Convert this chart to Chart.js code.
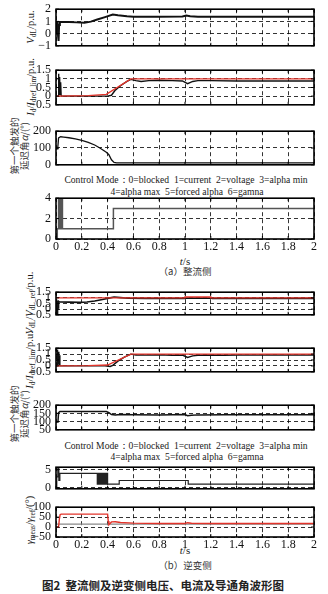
<!DOCTYPE html>
<html lang="zh">
<head>
<meta charset="utf-8">
<title>整流侧及逆变侧电压、电流及导通角波形图</title>
<script src="https://cdn.jsdelivr.net/npm/chart.js@4.4.1/dist/chart.umd.min.js"></script>
<style>
  html,body{margin:0;padding:0;background:#fff;}
  body{position:relative;width:328px;height:594px;overflow:hidden;font-family:"Liberation Serif","Times New Roman",serif;color:#1a1a1a;}
  canvas{position:absolute;left:0;}
  .t{position:absolute;white-space:nowrap;transform:translate(-50%,-50%);line-height:1;}
  .rot{transform:translate(-50%,-50%) rotate(-90deg);}
  .cjk{font-family:"Noto Sans CJK SC",sans-serif;}
  .two{text-align:center;line-height:10px;}
  .mode{font-size:9.6px;}
  sub{font-size:70%;vertical-align:-0.25em;line-height:0;}
</style>
</head>
<body>
<!-- axis titles -->
<div class="t rot" style="left:31px;top:27px;font-size:10.5px"><i>V</i><sub>dL</sub>/p.u.</div>
<div class="t rot" style="left:31px;top:87px;font-size:10.5px"><i>I</i><sub>d</sub>/<i>I</i><sub>dref_lim</sub>/p.u.</div>
<div class="t rot two cjk" style="left:19px;top:146px;font-size:9.5px;color:#333"><div>第一个触发的</div><div>延迟角<i>α</i>/(°)</div></div>
<div class="t rot" style="left:30px;top:303px;font-size:10.5px"><i>V</i><sub>dL</sub>/<i>V</i><sub>dL_ref</sub>/p.u.</div>
<div class="t rot" style="left:30px;top:360px;font-size:10.5px"><i>I</i><sub>d</sub>/<i>I</i><sub>dref_lim</sub>/p.u.</div>
<div class="t rot two cjk" style="left:19px;top:414px;font-size:9.5px;color:#333"><div>第一个触发的</div><div>延迟角<i>α</i>/(°)</div></div>
<div class="t rot" style="left:30px;top:520px;font-size:10.5px"><i>γ</i><sub>meas</sub>/<i>γ</i><sub>ref</sub>/(°)</div>

<div class="t mode" style="left:186px;top:180px">Control Mode：0=blocked&nbsp; 1=current&nbsp; 2=voltage&nbsp; 3=alpha min</div>
<div class="t mode" style="left:187px;top:192px">4=alpha max&nbsp; 5=forced alpha&nbsp; 6=gamna</div>
<div class="t" style="left:185px;top:261px;font-size:11px"><i>t</i>/s</div>
<div class="t cjk" style="left:185px;top:272px;font-size:9.5px;color:#333">（a）整流侧</div>

<div class="t mode" style="left:186px;top:446px">Control Mode：0=blocked&nbsp; 1=current&nbsp; 2=voltage&nbsp; 3=alpha min</div>
<div class="t mode" style="left:187px;top:457px">4=alpha max&nbsp; 5=forced alpha&nbsp; 6=gamna</div>
<div class="t" style="left:185px;top:550px;font-size:11px"><i>t</i>/s</div>
<div class="t cjk" style="left:185px;top:566px;font-size:9.5px;color:#333">（b）逆变侧</div>

<div class="t cjk" style="left:163px;top:586px;font-size:11.5px;font-weight:bold;color:#222">图2&nbsp; 整流侧及逆变侧电压、电流及导通角波形图</div>

<script>
// ---- rectifier side ----
const recVdcT = [0, 0.004, 0.008, 0.012, 0.016, 0.02, 0.024, 0.03, 0.04, 0.1, 0.16, 0.22, 0.27, 0.32, 0.38, 0.44, 0.48, 0.55, 0.6, 0.8, 0.98, 1.01, 1.04, 1.1, 1.4, 1.7, 2.0];
const recVdcV = [0, 1.0, 0.3, 1.0, -0.2, -0.6, 0.7, 0.95, 0.95, 0.95, 0.92, 0.88, 0.98, 1.15, 1.35, 1.56, 1.5, 1.42, 1.38, 1.38, 1.4, 1.48, 1.42, 1.38, 1.38, 1.38, 1.38];

const recIdT = [0, 0.018, 0.02, 0.022, 0.026, 0.028, 0.032, 0.036, 0.04, 0.2, 0.4, 0.43, 0.46, 0.5, 0.55, 0.58, 0.62, 0.66, 0.72, 0.8, 0.9, 0.98, 1.02, 1.06, 1.1, 1.2, 1.4, 1.6, 1.8, 2.0];
const recIdV = [0, 0, 1.3, 0.1, 0.1, 1.1, 0.1, 0.8, 0, 0, 0, 0.05, 0.35, 0.6, 0.85, 0.97, 0.9, 0.85, 0.9, 0.92, 0.9, 0.88, 0.72, 0.85, 0.9, 0.9, 0.88, 0.88, 0.88, 0.88];
const recIdRefT = [0, 0.25, 0.39, 0.58, 2.0];
const recIdRefV = [0, 0.03, 0.1, 1.0, 1.0];

const recAlphaT = [0, 0.008, 0.014, 0.02, 0.036, 0.06, 0.1, 0.15, 0.2, 0.25, 0.3, 0.34, 0.39, 0.41, 0.43, 0.45, 0.47, 2.0];
const recAlphaV = [95, 95, 105, 160, 167, 165, 161, 154, 146, 134, 118, 100, 75, 60, 30, 14, 12, 12];

const recModeT = [0, 0.01, 0.02, 0.03, 0.04, 0.05, 0.445, 2.0];
const recModeV = [0, 1, 4, 1, 4, 1, 3, 3];

// ---- inverter side ----
const invVdcT = [0, 0.004, 0.008, 0.012, 0.016, 0.02, 0.026, 0.04, 0.1, 0.18, 0.24, 0.3, 0.36, 0.42, 0.45, 0.5, 0.56, 0.7, 1.0, 1.01, 1.2, 1.21, 1.5, 2.0];
const invVdcV = [0.85, 0.3, -0.35, 0.75, 0.1, 0.7, 0.65, 0.63, 0.62, 0.6, 0.63, 0.72, 0.85, 1.0, 1.07, 1.02, 0.97, 0.95, 0.95, 0.98, 0.98, 0.95, 0.95, 0.95];
const invVdcRefT = [0, 1.0, 1.0, 1.2, 1.2, 2.0];
const invVdcRefV = [1, 1, 1.08, 1.08, 1, 1];

const invIdT = [0, 0.008, 0.01, 0.014, 0.018, 0.022, 0.026, 0.03, 0.2, 0.38, 0.42, 0.44, 0.48, 0.53, 0.58, 0.62, 0.7, 0.8, 0.9, 0.98, 1.02, 1.06, 1.1, 1.2, 1.3, 1.4, 1.6, 2.0];
const invIdV = [0, 0, 1.4, 0.1, 1.2, 0.1, 0.9, 0, 0, 0, -0.05, 0.05, 0.4, 0.75, 1.0, 0.93, 0.92, 0.95, 0.9, 0.92, 0.72, 0.85, 0.9, 0.92, 0.9, 0.93, 0.93, 0.93];
const invIdRefT = [0, 0.25, 0.4, 0.58, 2.0];
const invIdRefV = [0, 0.02, 0.07, 1.0, 1.0];

const invAlphaT = [0, 0.015, 0.02, 0.03, 0.1, 0.2, 0.3, 0.39, 0.41, 0.43, 0.46, 0.5, 0.6, 0.8, 1.0, 1.02, 1.05, 1.1, 1.3, 1.6, 2.0];
const invAlphaV = [97, 97, 155, 161, 161, 161, 161, 161, 155, 143, 140, 144, 142, 141, 143, 136, 138, 141, 142, 142, 142];

const invModeT = [0, 0.006, 0.014, 0.022, 0.03, 0.32, 0.325, 0.33, 0.335, 0.34, 0.345, 0.35, 0.355, 0.36, 0.365, 0.37, 0.375, 0.38, 0.385, 0.39, 0.395, 0.4, 0.49, 1.025, 2.0];
const invModeV = [0, 3, 6, 2, 4, 1, 4, 1, 4, 1, 4, 1, 4, 1, 4, 1, 4, 1, 4, 1, 4, 1, 2, 1, 1];

const gammaT = [0, 0.02, 0.026, 0.032, 0.04, 0.2, 0.4, 0.405, 0.41, 0.43, 0.46, 0.5, 0.6, 0.8, 1.0, 1.02, 1.05, 1.2, 1.6, 2.0];
const gammaV = [0, 0, 40, 62, 65, 65, 65, 30, 12, 26, 27, 23, 20, 18, 18, 22, 19, 18, 18, 18];
const gammaRefT = [0, 2.0];
const gammaRefV = [15, 15];

// ---- drawing ----
Chart.defaults.font.family = '"Liberation Serif", "Times New Roman", serif';
Chart.defaults.font.size = 12;
Chart.defaults.color = '#111';

const RED = '#e3342b', BLACK = '#111', GRAY = '#555';
const PAD = 8, XH = 15;

const pts = (ts, vs) => ts.map((t, i) => ({x: t, y: vs[i]}));
const series = (ts, vs, color, width, extra) =>
  Object.assign({data: pts(ts, vs), borderColor: color, borderWidth: width, fill: false}, extra || {});

// solid frame with inward tick marks, drawn over the data
const frameBox = {
  id: 'frameBox',
  afterDatasetsDraw(chart) {
    const {ctx, chartArea: a, scales} = chart;
    ctx.save();
    ctx.strokeStyle = '#000';
    ctx.lineWidth = 1;
    ctx.beginPath();
    scales.x.ticks.forEach(tk => {
      const px = scales.x.getPixelForValue(tk.value);
      ctx.moveTo(px, a.top); ctx.lineTo(px, a.top + 3);
      ctx.moveTo(px, a.bottom); ctx.lineTo(px, a.bottom - 3);
    });
    scales.y.ticks.forEach(tk => {
      const py = scales.y.getPixelForValue(tk.value);
      ctx.moveTo(a.left, py); ctx.lineTo(a.left + 3, py);
      ctx.moveTo(a.right, py); ctx.lineTo(a.right - 3, py);
    });
    ctx.stroke();
    ctx.lineWidth = 1.6;
    ctx.strokeRect(a.left, a.top, a.right - a.left, a.bottom - a.top);
    ctx.restore();
  }
};

function panel(top, bottom, y, datasets, showX) {
  const c = document.createElement('canvas');
  const h = bottom - top + 2 * PAD + (showX ? XH : 0);
  c.width = 328; c.height = h;
  c.style.top = (top - PAD) + 'px';
  document.body.appendChild(c);
  const grid = {color: '#000', lineWidth: 0.8, drawTicks: false};
  const border = {display: false, dash: [4, 3]};
  new Chart(c, {
    type: 'line',
    data: {datasets},
    options: {
      responsive: false, animation: false, events: [],
      layout: {padding: {left: 0, right: 14, top: PAD, bottom: PAD}},
      plugins: {legend: {display: false}, tooltip: {enabled: false}},
      elements: {point: {radius: 0}, line: {tension: 0}},
      scales: {
        x: {
          type: 'linear', min: 0, max: 2,
          ticks: {display: showX, stepSize: 0.2, autoSkip: false, maxRotation: 0, padding: 1,
                  callback: v => String(Math.round(v * 10) / 10)},
          grid, border,
          afterFit: s => { s.height = showX ? XH : 0; }
        },
        y: {
          type: 'linear', min: y.min, max: y.max,
          ticks: {stepSize: y.step, autoSkip: false, padding: 5,
                  callback: v => String(v).replace('-', '\u2212')},
          grid, border,
          afterFit: s => { s.width = 56; },
          afterBuildTicks: s => { if (y.ticks) s.ticks = y.ticks.map(v => ({value: v})); }
        }
      }
    },
    plugins: [frameBox]
  });
}

// rectifier
panel(5, 50, {min: -1, max: 2, step: 1}, [series(recVdcT, recVdcV, BLACK, 2)]);
panel(66, 109, {min: -0.5, max: 1.5, step: 0.5}, [
  series(recIdRefT, recIdRefV, RED, 1.4),
  series(recIdT, recIdV, BLACK, 1.4)
]);
panel(127, 169, {min: 0, max: 200, step: 100}, [series(recAlphaT, recAlphaV, BLACK, 1.3)]);
panel(194, 239, {min: 0, max: 4, step: 2}, [series(recModeT, recModeV, GRAY, 1.5, {stepped: true})], true);

// inverter
panel(288, 319, {min: -0.5, max: 1.5, step: 0.5}, [
  series(invVdcRefT, invVdcRefV, RED, 1.4),
  series(invVdcT, invVdcV, BLACK, 1.6)
]);
panel(344, 376, {min: -0.5, max: 1.5, step: 0.5}, [
  series(invIdRefT, invIdRefV, RED, 1.4),
  series(invIdT, invIdV, BLACK, 1.4)
]);
panel(401, 434, {min: 50, max: 200, step: 50}, [series(invAlphaT, invAlphaV, BLACK, 1.5)]);
panel(463, 493, {min: -0.3, max: 5.7, ticks: [0, 5]}, [series(invModeT, invModeV, '#222', 1.2, {stepped: true})]);
panel(503, 537, {min: -50, max: 100, step: 50}, [
  series(gammaT, gammaV, RED, 1.4),
  series(gammaRefT, gammaRefV, '#888', 1.4)
], true);
</script>
</body>
</html>
